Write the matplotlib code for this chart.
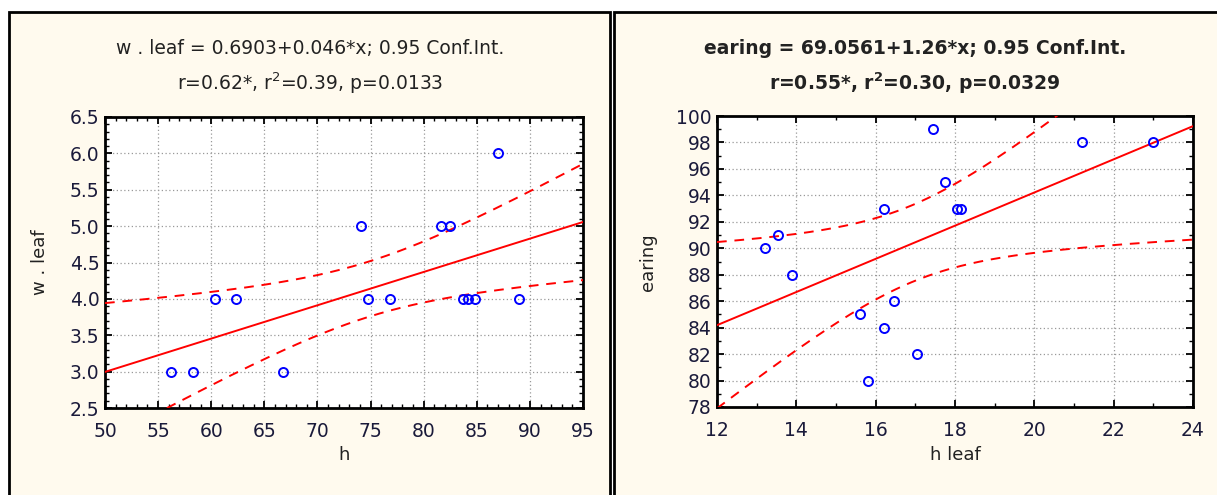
import numpy as np
import matplotlib
matplotlib.use("Agg")
import matplotlib.pyplot as plt
from matplotlib.patches import Rectangle
from matplotlib.ticker import MultipleLocator

plt.rcParams['font.family'] = ['DejaVu Sans']
plt.rcParams['mathtext.fontset'] = 'dejavusans'

# left panel: h vs w.leaf
h = [56.2, 58.3, 66.8, 60.4, 62.3, 74.1, 74.8, 76.8, 81.6, 82.5, 83.7, 84.2, 84.8, 87.0, 89.0]
w_leaf = [3, 3, 3, 4, 4, 5, 4, 4, 5, 5, 4, 4, 4, 6, 4]

# right panel: h leaf vs earing
h_leaf = [13.2, 13.55, 13.9, 15.6, 15.8, 16.2, 16.2, 16.45, 17.05, 17.45, 17.75, 18.05, 18.15, 21.2, 23.0]
earing = [90, 91, 88, 85, 80, 93, 84, 86, 82, 99, 95, 93, 93, 98, 98]

t975 = 2.1604  # t(0.975, df=13)

W, H = 1217, 495
fig = plt.figure(figsize=(W / 100, H / 100), dpi=100)
fig.patch.set_facecolor('white')

bg = '#FFFAEE'
fig.patches.append(Rectangle((9 / W, -0.02), 601 / W, 1.02 - 12 / H, transform=fig.transFigure,
                             facecolor=bg, edgecolor='black', linewidth=2, zorder=-5))
fig.patches.append(Rectangle((614 / W, -0.02), 610 / W, 1.02 - 12 / H, transform=fig.transFigure,
                             facecolor=bg, edgecolor='black', linewidth=2, zorder=-5))


def panel(rect, x, y, xlim, ylim, xmaj, xmin, ymaj, ymin, fmt, title1, title2, xlabel, ylabel,
          cx, ylab_x, bold):
    ax = fig.add_axes(rect)
    x = np.array(x, float)
    y = np.array(y, float)
    b, a = np.polyfit(x, y, 1)
    n = len(x)
    xm = x.mean()
    sxx = ((x - xm) ** 2).sum()
    s = np.sqrt(((y - (a + b * x)) ** 2).sum() / (n - 2))
    xx = np.linspace(xlim[0], xlim[1], 300)
    yy = a + b * xx
    half = t975 * s * np.sqrt(1 / n + (xx - xm) ** 2 / sxx)

    ax.plot(xx, yy, color='#FF0000', lw=1.4, zorder=3)
    ax.plot(xx, yy + half, color='#FF0000', lw=1.4, ls=(0, (5, 4)), zorder=3)
    ax.plot(xx, yy - half, color='#FF0000', lw=1.4, ls=(0, (5, 4)), zorder=3)
    ax.plot(x, y, 'o', ms=6.5, mfc='none', mec='#0000FF', mew=1.4, zorder=4, clip_on=False)

    ax.set_xlim(xlim)
    ax.set_ylim(ylim)
    ax.xaxis.set_major_locator(MultipleLocator(xmaj))
    ax.xaxis.set_minor_locator(MultipleLocator(xmin))
    ax.yaxis.set_major_locator(MultipleLocator(ymaj))
    ax.yaxis.set_minor_locator(MultipleLocator(ymin))
    ax.yaxis.set_major_formatter(fmt)
    ax.grid(True, which='major', color='#999999', ls=(0, (1, 2)), lw=0.9)
    ax.tick_params(which='both', direction='in', top=True, right=True, labelsize=13.5,
                   labelcolor='#1a1a3a', pad=4)
    ax.tick_params(which='major', length=5, width=1.3)
    ax.tick_params(which='minor', length=3, width=1.0)
    ax.tick_params(axis='x', pad=10)
    for sp in ax.spines.values():
        sp.set_linewidth(2)

    wt = 'bold' if bold else 'normal'
    fig.text(cx, 1 - 48 / H, title1, ha='center', va='center', fontsize=13.5, weight=wt, color='#222222')
    fig.text(cx, 1 - 83 / H, title2, ha='center', va='center', fontsize=13.5, weight=wt, color='#222222')
    pos = ax.get_position()
    fig.text((pos.x0 + pos.x1) / 2, 1 - 455 / H, xlabel, ha='center', va='center', fontsize=13, color='#222222')
    fig.text(ylab_x, 1 - 262 / H, ylabel, ha='center', va='center', rotation=90,
             fontsize=13, color='#222222')
    return ax


panel([105 / W, 1 - 408 / H, 478 / W, 291 / H], h, w_leaf, (50, 95), (2.5, 6.5), 5, 1, 0.5, 0.1,
      '{x:.1f}', 'w . leaf = 0.6903+0.046*x; 0.95 Conf.Int.',
      r'r=0.62*, r$^2$=0.39, p=0.0133', 'h', 'w . leaf', 310 / W, 40 / W, False)

panel([717 / W, 1 - 407 / H, 476 / W, 291 / H], h_leaf, earing, (12, 24), (78, 100), 2, 1, 2, 1,
      '{x:.0f}', 'earing = 69.0561+1.26*x; 0.95 Conf.Int.',
      r'r=0.55*, r$^\mathbf{2}$=0.30, p=0.0329', 'h leaf', 'earing', 915 / W, 648 / W, True)

fig.savefig('out.png', dpi=100, facecolor=fig.get_facecolor())
